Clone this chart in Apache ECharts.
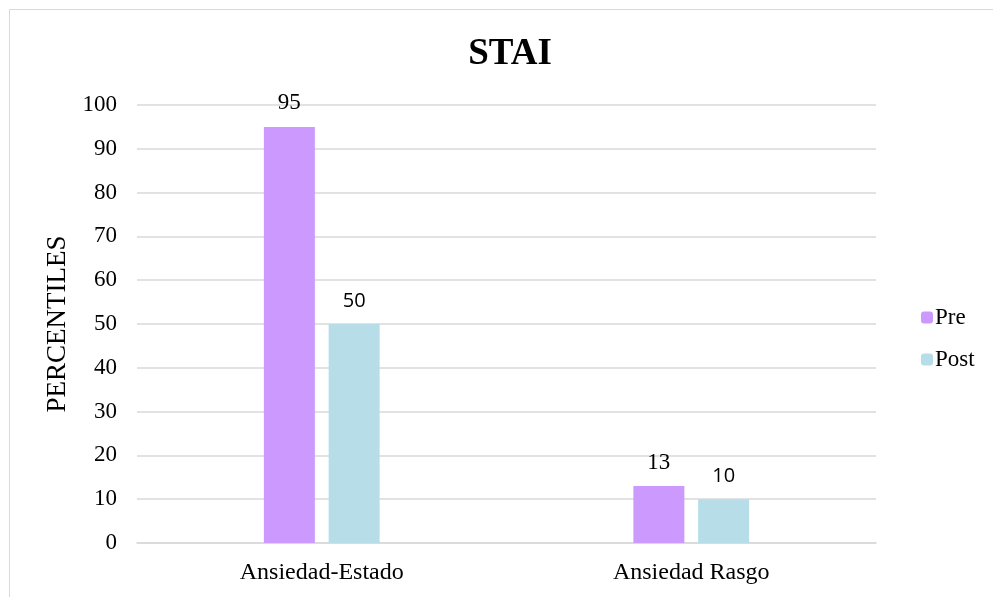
<!DOCTYPE html>
<html><head><meta charset="utf-8">
<script src="https://cdn.jsdelivr.net/npm/echarts@6/dist/echarts.min.js"></script>
<style>html,body{margin:0;padding:0;background:#fff}#c{width:993px;height:597px}</style>
</head><body><div id="c"></div>
<script>
const categories = ['Ansiedad-Estado', 'Ansiedad Rasgo'];
const preValues = [95, 13];
const postValues = [50, 10];
const yTicks = [0, 10, 20, 30, 40, 50, 60, 70, 80, 90, 100];
const serif = '"Liberation Serif", "DejaVu Serif", serif';
const chart = echarts.init(document.getElementById('c'));
chart.setOption({
  backgroundColor: '#fff',
  animation: false,
  graphic: [{type:'rect', shape:{x:9.5,y:9.5,width:1000,height:700}, style:{fill:'none', stroke:'#d9d9d9', lineWidth:1}}],
  title: {text:'STAI', left:505, top:31, textAlign:'center',
    textStyle:{fontFamily:serif, fontSize:37, fontWeight:'bold', color:'#000'}},
  legend: {orient:'vertical', left:916, top:301, itemWidth:12, itemHeight:12, itemGap:19,
    textStyle:{fontFamily:serif, fontSize:23, color:'#000', padding:[0,0,0,-3]},
    data:['Pre','Post']},
  grid: {left:137, right:117, top:105, bottom:54, containLabel:false},
  xAxis: {type:'category', data:categories,
    axisLine:{lineStyle:{color:'#d9d9d9', width:1.5}}, axisTick:{show:false},
    axisLabel:{fontFamily:serif, fontSize:24, color:'#000', margin:18}},
  yAxis: {type:'value', min:0, max:100, interval:10,
    name:'PERCENTILES', nameLocation:'middle', nameGap:65, nameRotate:90,
    nameTextStyle:{fontFamily:serif, fontSize:27, color:'#000'},
    axisLine:{show:false}, axisTick:{show:false},
    axisLabel:{fontFamily:serif, fontSize:23, color:'#000', margin:20,
      formatter: v => yTicks.includes(v) ? String(v) : ''},
    splitLine:{lineStyle:{color:'#d9d9d9', width:1.5}}},
  series: [
    {name:'Pre', type:'bar', data:preValues, barWidth:51, barGap:'27%',
     itemStyle:{color:'#cc99ff'},
     label:{show:true, position:'top', distance:12, fontFamily:serif, fontSize:23, color:'#000'}},
    {name:'Post', type:'bar', data:postValues, barWidth:51,
     itemStyle:{color:'#b7dee8'},
     label:{show:true, position:'top', distance:13, fontFamily:'"Open Sans", "Noto Sans", sans-serif', fontSize:20, color:'#000'}}
  ]
});
</script></body></html>
